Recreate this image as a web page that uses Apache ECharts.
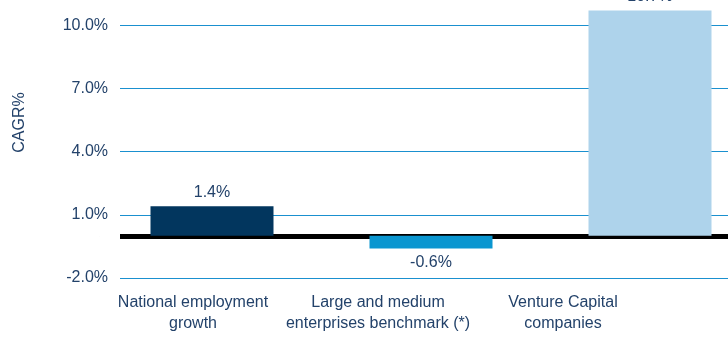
<!DOCTYPE html>
<html>
<head>
<meta charset="utf-8">
<script src="https://cdn.jsdelivr.net/npm/echarts@6/dist/echarts.min.js"></script>
<style>
  html, body { margin: 0; padding: 0; background: #ffffff; }
  #chart { width: 728px; height: 340px; }
</style>
</head>
<body>
<div id="chart"></div>
<script>
// Employment CAGR by group
const categories = [
  'National employment\ngrowth',
  'Large and medium\nenterprises benchmark (*)',
  'Venture Capital\ncompanies'
];
const cagrValues = [1.4, -0.6, 10.7];
const barColors = ['#02365e', '#0a96d0', '#aed3eb'];
const yTickMin = -2;
const yTickStep = 3;
const yTop = 12;

const textColor = '#23426a';
const fontFamily = '"Liberation Sans", Arial, Helvetica, sans-serif';

const barData = cagrValues.map((v, i) => ({
  value: v,
  itemStyle: { color: barColors[i] },
  label: { position: v < 0 ? 'bottom' : 'top' }
}));

const pct = v => v.toFixed(1) + '%';

const chart = echarts.init(document.getElementById('chart'), null, { renderer: 'canvas' });

chart.setOption({
  animation: false,
  backgroundColor: '#ffffff',
  grid: [{
    // plotting area for the bars
    left: 102.5, right: -31.5, top: -17, bottom: 62,
    containLabel: false,
    outerBoundsMode: 'none'
  }, {
    // narrower band that carries the category names
    left: 100.5, right: 72.5, top: -17, bottom: 62,
    containLabel: false,
    outerBoundsMode: 'none'
  }],
  xAxis: [{
    type: 'category',
    gridIndex: 0,
    data: categories,
    axisLine: { show: true, onZero: true, lineStyle: { color: '#000000', width: 5 } },
    axisTick: { show: false },
    axisLabel: { show: false },
    z: 0
  }, {
    type: 'category',
    gridIndex: 1,
    data: categories,
    axisLine: { show: false },
    axisTick: { show: false },
    axisLabel: {
      interval: 0,
      color: textColor,
      fontFamily: fontFamily,
      fontSize: 16,
      lineHeight: 21,
      margin: 14
    },
    z: 3
  }],
  yAxis: [{
    // value labels and axis title
    type: 'value',
    gridIndex: 0,
    min: yTickMin,
    max: yTop,
    interval: yTickStep,
    name: 'CAGR%',
    nameLocation: 'middle',
    nameGap: 75,
    nameRotate: 90,
    nameTextStyle: { color: textColor, fontFamily: fontFamily, fontSize: 16, padding: [0, 0, 0, 16] },
    axisLine: { show: false },
    axisTick: { show: false },
    axisLabel: {
      color: textColor,
      fontFamily: fontFamily,
      fontSize: 16,
      margin: -5.5,
      showMaxLabel: false,
      formatter: pct
    },
    splitLine: { show: false },
    z: 3
  }, {
    // gridlines on the same scale
    type: 'value',
    gridIndex: 0,
    min: yTickMin,
    max: yTop,
    interval: yTickStep,
    axisLine: { show: false },
    axisTick: { show: false },
    axisLabel: { show: false },
    splitLine: { show: true, lineStyle: { color: '#1a90cf', width: 1.2 } },
    z: 0
  }, {
    type: 'value',
    gridIndex: 1,
    show: false,
    min: yTickMin,
    max: yTop
  }],
  // white margin between the value labels and the start of the gridlines
  graphic: [{
    type: 'rect',
    left: 100,
    top: 0,
    shape: { width: 20, height: 300 },
    style: { fill: '#ffffff' },
    z: 1
  }],
  series: [{
    type: 'bar',
    xAxisIndex: 0,
    yAxisIndex: 0,
    data: barData,
    barWidth: 123,
    label: {
      show: true,
      color: textColor,
      fontFamily: fontFamily,
      fontSize: 16,
      distance: 6,
      formatter: p => pct(p.value)
    }
  }]
});
</script>
</body>
</html>
